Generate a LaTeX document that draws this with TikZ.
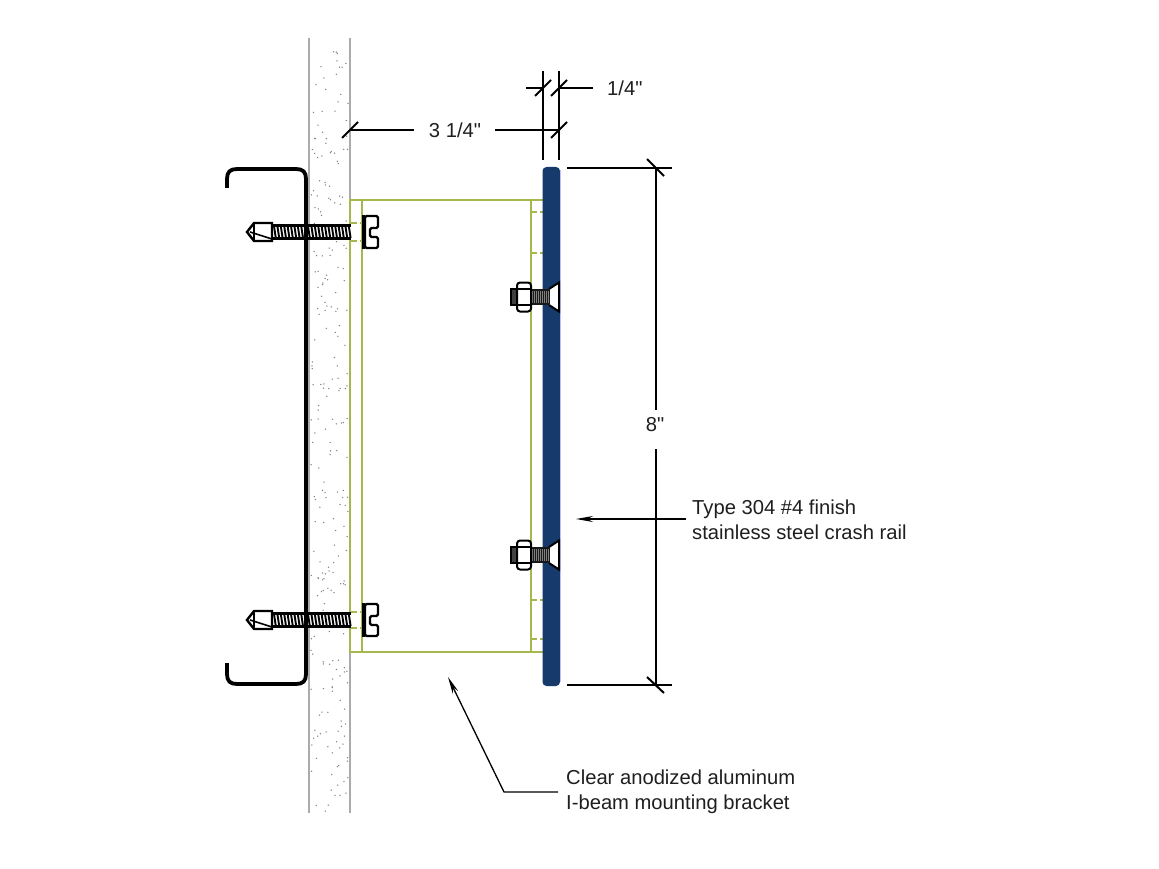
\documentclass[tikz,border=0pt]{standalone}
\usepackage{fontspec}
\newfontfamily\lblfont{Liberation Sans}
\usetikzlibrary{arrows.meta}
\definecolor{beamgreen}{HTML}{A4B84E}
\definecolor{railblue}{HTML}{173A6C}
\definecolor{wallgray}{HTML}{ABABAB}
\tikzset{
  x=1pt,y=-1pt,
  wall/.style={draw=wallgray,line width=2pt},
  beam/.style={draw=beamgreen,line width=2pt},
  beamdash/.style={draw=beamgreen,line width=1.7pt,dash pattern=on 6pt off 3pt on 3pt off 20pt},
  channel/.style={draw=black,line width=3.8pt,line cap=butt},
  dimline/.style={draw=black,line width=1.7pt},
  tick/.style={draw=black,line width=2pt},
  leader/.style={draw=black,line width=1.3pt},
  lbl/.style={font=\lblfont\fontsize{20.2}{24.7}\selectfont,text=black!88,inner sep=0pt},
  fastener/.style={draw=black,line width=1.4pt,fill=white},
  pics/wallscrew/.style={code={
    \fill[white] (273,-7) rectangle (351,7);
    \foreach \tx in {274,277.4,...,350}{\draw[black,line width=1.9pt] (\tx,-6) -- (\tx+1.8,6);}
    \draw[black,line width=2.4pt] (273,-6.5) -- (351,-6.5) (273,6.5) -- (351,6.5);
    \draw[fastener,line width=2.4pt] (272,-9) -- (254,-9) -- (247,0) -- (254,9) -- (272,9) -- cycle;
    \draw[black,line width=1.2pt] (254,-9) -- (254,9);
    \draw[black,line width=1.6pt] (250,0) -- (272,7);
    \fill[black] (361.5,-17) rectangle (365,17);
    \draw[fastener,line width=2.2pt,rounded corners=1.5pt] (365,-16) -- (378,-16) -- (378,-4) -- (370,-4) -- (370,5) -- (378,5) -- (378,16) -- (365,16) -- cycle;
  }},
  pics/railbolt/.style={code={
    \fill[white] (550,-8) -- (559,-14.5) -- (559,14.5) -- (550,8) -- cycle;
    \draw[black,line width=2pt] (549,-8) -- (559,-14.5) -- (559,14.5) -- (549,8);
    \fill[black!90] (531,-8) rectangle (550,8);
    \foreach \tx in {532,534,...,549}{\draw[white!50!black,line width=.45pt] (\tx,-6) -- (\tx,6);}
    \draw[black,line width=2pt,fill=black!75] (511,-8) rectangle (517,8);
    \draw[fastener,rounded corners=3pt,line width=2pt] (517,-14.5) rectangle (531,14.5);
    \draw[black,line width=1.4pt] (517,-8) -- (531,-8) (517,8) -- (531,8);
  }}
}
\begin{document}
\begin{tikzpicture}
\useasboundingbox (0,0) rectangle (1159,869);
\fill[white] (0,0) rectangle (1159,869);

% concrete wall
\draw[wall] (309,38) -- (309,813);
\draw[wall] (350,38) -- (350,813);
\pgfmathsetseed{9173}
\foreach \i in {1,...,250}{
  \pgfmathsetmacro{\dx}{311+rnd*37}
  \pgfmathsetmacro{\dy}{40+rnd*772}
  \fill[black!50] (\dx,\dy) circle[radius=.75pt];
}

% I-beam bracket
\draw[beam] (350,200) rectangle (362,652);
\draw[beam] (362,200) -- (543,200);
\draw[beam] (362,652) -- (543,652);
\draw[beam] (531,200) -- (531,652);
\foreach \by in {223,241,612,628}{\draw[beamdash] (350.5,\by) -- (362,\by);}
\foreach \by in {212,253,600,639}{\draw[beamdash] (531,\by) -- (543,\by);}

% crash rail
\fill[railblue,rounded corners=4pt] (542.5,167) rectangle (560,686);
\draw[blue!25!white,line width=.8pt] (560.3,170) -- (560.3,682);

% fasteners through wall
\pic at (0,232) {wallscrew};
\pic at (0,620) {wallscrew};

% channel
\draw[channel,line join=round] (227,188) -- (227,179) .. controls (227,172) and (230,169) .. (237,169)
  -- (296,169) .. controls (303,169) and (306,172) .. (306,179) -- (306,674)
  .. controls (306,681) and (303,684) .. (296,684) -- (237,684)
  .. controls (230,684) and (227,681) .. (227,674) -- (227,663);

% rail bolts
\pic at (0,297) {railbolt};
\pic at (0,555) {railbolt};

% dimensions: 1/4"
\coordinate (extA1) at (543,71); \coordinate (extA2) at (543,160);
\coordinate (extB1) at (559,71); \coordinate (extB2) at (559,160);
\draw[dimline] (extA1) -- (extA2);
\draw[dimline] (extB1) -- (extB2);
\coordinate (quarterL0) at (526,88); \coordinate (quarterL1) at (543,88);
\coordinate (quarterR0) at (559,88);
\node[lbl,anchor=west] (quarter) at (607,88) {1/4"};
\coordinate (quarterR1) at (593,88);
\draw[dimline] (quarterL0) -- (quarterL1);
\draw[dimline] (quarterR0) -- (quarterR1);
\draw[tick] (535,96) -- (551,80);
\draw[tick] (551,96) -- (567,80);

% dimensions: 3 1/4"
\node[lbl] (threeq) at (455,130) {3 1/4"};
\coordinate (wallface) at (350,130);
\coordinate (railface) at (559,130);
\draw[dimline] (wallface) -- (414,130);
\draw[dimline] (495,130) -- (railface);
\draw[tick] (342,138) -- (358,122);
\draw[tick] (551,138) -- (567,122);

% dimensions: 8"
\node[lbl] (eight) at (655,425) {8"};
\coordinate (topdim) at (656,168);
\coordinate (botdim) at (656,685);
\draw[dimline] (567,168) -- (672,168);
\draw[dimline] (567,685) -- (672,685);
\draw[dimline] (topdim) -- (656,410);
\draw[dimline] (656,449) -- (botdim);
\draw[tick] (647,159) -- (664,176);
\draw[tick] (647,677) -- (664,693);

% callouts
\node[lbl,anchor=west,align=left] (railnote) at (692,519.5) {Type 304 \#4 finish\\stainless steel crash rail};
\coordinate (railtip) at (576,519);
\draw[leader,-{Stealth[length=17pt,width=6pt]}] (686,519) -- (railtip);

\node[lbl,anchor=west,align=left] (beamnote) at (566,791.5) {Clear anodized aluminum\\I-beam mounting bracket};
\coordinate (beamtip) at (448,677);
\coordinate (beamknee) at (504,792);
\draw[leader,-{Stealth[length=17pt,width=6pt]}] (558,792) -- (beamknee) -- (beamtip);
\end{tikzpicture}
\end{document}
